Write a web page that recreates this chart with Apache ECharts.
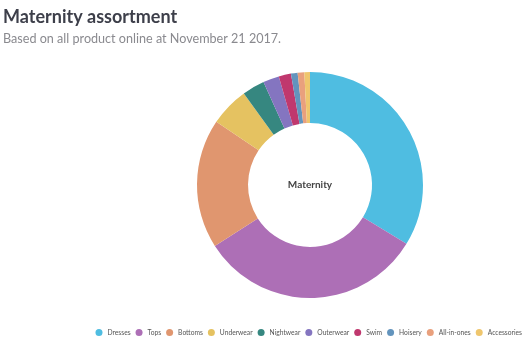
<!DOCTYPE html>
<html>
<head>
<meta charset="utf-8">
<script src="https://cdn.jsdelivr.net/npm/echarts@6/dist/echarts.min.js"></script>
<style>
  html, body { margin: 0; padding: 0; background: #fff; }
  #chart { width: 528px; height: 345px; }
</style>
</head>
<body>
<div id="chart"></div>
<script>
// Share of maternity products online, by category (%)
const categories = ['Dresses', 'Tops', 'Bottoms', 'Underwear', 'Nightwear', 'Outerwear', 'Swim', 'Hoisery', 'All-in-ones', 'Accessories'];
const shares = [33.7, 32.2, 18.5, 5.6, 3.2, 2.3, 1.75, 0.95, 0.95, 0.8];
const palette = ['#4fbde1', '#ad6fb6', '#e0966f', '#e5c261', '#368780', '#8475c0', '#c0386e', '#6394bd', '#e9a07d', '#efc66d'];

const chart = echarts.init(document.getElementById('chart'), null, { renderer: 'canvas' });
chart.setOption({
  animation: false,
  color: palette,
  title: {
    text: 'Maternity assortment',
    subtext: 'Based on all product online at November 21 2017.',
    left: 3,
    top: 8,
    padding: 0,
    itemGap: 6,
    textStyle: { fontFamily: 'Lato', fontSize: 18, fontWeight: 'bold', color: '#3d3f4a' },
    subtextStyle: { fontFamily: 'Lato', fontSize: 12.6, color: '#8a8a8f' }
  },
  legend: {
    data: categories,
    right: 6,
    bottom: 9,
    padding: 0,
    icon: 'circle',
    itemWidth: 7,
    itemHeight: 7,
    itemGap: 5,
    textStyle: { fontFamily: 'Lato', fontSize: 6.7, color: '#555' }
  },
  series: [{
    type: 'pie',
    center: [310, 185],
    radius: [62, 113],
    startAngle: 90,
    clockwise: true,
    avoidLabelOverlap: false,
    label: {
      show: true,
      position: 'center',
      formatter: () => 'Maternity',
      fontFamily: 'Lato',
      fontSize: 10,
      fontWeight: 'bold',
      color: '#444'
    },
    labelLine: { show: false },
    emphasis: { disabled: true },
    data: categories.map((name, i) => ({ name, value: shares[i], label: { show: i === 0 } }))
  }]
});
</script>
</body>
</html>
